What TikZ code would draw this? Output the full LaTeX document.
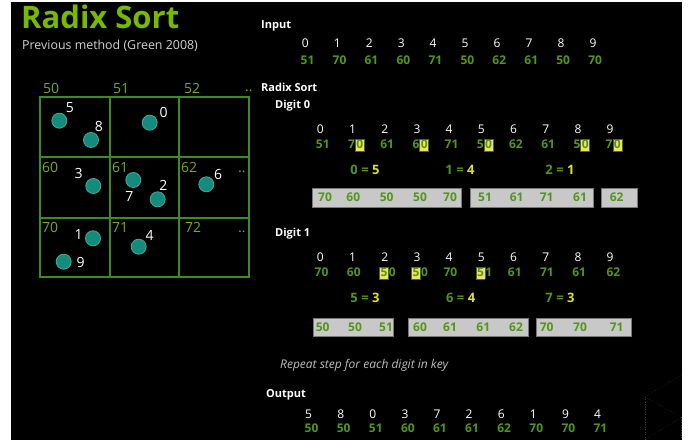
\documentclass[tikz,border=0pt]{standalone}
\usepackage{fontspec}
\setmainfont{Open Sans}
\definecolor{titlegreen}{RGB}{118,185,0}
\definecolor{valgreen}{RGB}{82,150,28}
\definecolor{labgreen}{RGB}{120,170,20}
\definecolor{gridgreen}{RGB}{60,140,30}
\definecolor{tealfill}{RGB}{20,140,125}
\definecolor{tealborder}{RGB}{70,170,155}
\definecolor{cntyellow}{RGB}{225,225,40}
\definecolor{hlfill}{RGB}{235,230,90}
\definecolor{hlborder}{RGB}{90,90,60}
\definecolor{bucketgray}{RGB}{200,200,200}
\definecolor{bucketborder}{RGB}{120,120,120}
\definecolor{subgray}{RGB}{210,210,210}
\definecolor{notegray}{RGB}{190,190,190}
\definecolor{faintgray}{RGB}{60,60,60}
\newcommand\hlbox[1]{{\setlength{\fboxsep}{0pt}\setlength{\fboxrule}{0.6pt}\fcolorbox{hlborder}{hlfill}{\makebox[8.5pt]{\rule[-2.6pt]{0pt}{11.6pt}#1}}}}
\begin{document}
\begin{tikzpicture}[x=1pt,y=-1pt,
  titlestyle/.style={font=\fontsize{31}{33}\selectfont\bfseries, text=titlegreen, anchor=base west, inner sep=0},
  substyle/.style={font=\fontsize{12.4}{14}\selectfont, text=subgray, anchor=base west, inner sep=0},
  headstyle/.style={font=\fontsize{11}{13}\selectfont\bfseries, text=white, anchor=base west, inner sep=0},
  idxstyle/.style={font=\fontsize{12}{14}\selectfont, text=white, anchor=base west, inner sep=0},
  valstyle/.style={font=\fontsize{12}{14}\selectfont\bfseries, text=valgreen, anchor=base west, inner sep=0},
  bvalstyle/.style={valstyle, anchor=base},
  cntstyle/.style={font=\fontsize{13}{15}\selectfont\bfseries, text=valgreen, anchor=base, inner sep=0},
  bucketstyle/.style={draw=bucketborder, fill=bucketgray, line width=0.8pt, anchor=north west, inner sep=0},
  gridline/.style={draw=gridgreen, line width=1.5pt},
  clabel/.style={font=\fontsize{14}{16}\selectfont, text=labgreen, anchor=base west, inner sep=0},
  dotstyle/.style={circle, fill=tealfill, draw=tealborder, line width=0.8pt, minimum size=15pt, inner sep=0},
  dlabel/.style={font=\fontsize{14}{16}\selectfont, text=white, inner sep=0},
  notestyle/.style={font=\fontsize{12}{14}\selectfont\itshape, text=notegray, anchor=base west, inner sep=0},
  faint/.style={draw=faintgray, dotted, line width=0.5pt}
]
\useasboundingbox (0,0) rectangle (691,441);
\fill[white] (0,0) rectangle (691,441);
\fill[black] (11,2) rectangle (682,440);

% title
\node[titlestyle] (title) at (21,28.8) {Radix Sort};
\node[substyle] (subtitle) at (22,49.3) {Previous method (Green 2008)};

% grid
\draw[gridline] (40,97) rectangle (249,277);
\draw[gridline] (110,97) -- (110,277);
\draw[gridline] (179,97) -- (179,277);
\draw[gridline] (40,157) -- (249,157);
\draw[gridline] (40,218) -- (249,218);

\node[clabel] (l50) at (43,94) {50};
\node[clabel] (l51) at (113,94) {51};
\node[clabel] (l52) at (184,94) {52};
\node[clabel] (dd1) at (245,92) {..};
\node[clabel] (l60) at (42,172) {60};
\node[clabel] (l61) at (112,172) {61};
\node[clabel] (l62) at (181,172) {62};
\node[clabel] (dd2) at (238,172) {..};
\node[clabel] (l70) at (42,233) {70};
\node[clabel] (l71) at (112,233) {71};
\node[clabel] (l72) at (185,233) {72};
\node[clabel] (dd3) at (238,233) {..};

% dots
\node[dotstyle] (p5) at (59.3,120.7) {};
\node[dlabel] (t5) at (70,108) {5};
\node[dotstyle] (p8) at (91,140) {};
\node[dlabel] (t8) at (99,127) {8};
\node[dotstyle] (p0) at (149.7,122.7) {};
\node[dlabel] (t0) at (163.7,112.3) {0};
\node[dotstyle] (p3) at (93.3,186) {};
\node[dlabel] (t3) at (78.7,173.3) {3};
\node[dotstyle] (p7) at (133.3,180) {};
\node[dlabel] (t7) at (129.3,196.7) {7};
\node[dotstyle] (p2) at (157.7,199.3) {};
\node[dlabel] (t2) at (163.3,185) {2};
\node[dotstyle] (p6) at (206.3,184.3) {};
\node[dlabel] (t6) at (218,174.3) {6};
\node[dotstyle] (p1) at (93,238.3) {};
\node[dlabel] (t1) at (78.7,235) {1};
\node[dotstyle] (p9) at (63.7,261.7) {};
\node[dlabel] (t9) at (80.7,262.3) {9};
\node[dotstyle] (p4) at (138.7,246.7) {};
\node[dlabel] (t4) at (149.7,235) {4};

% Input
\node[headstyle] (hin) at (261,29) {Input};
\foreach \v [count=\i from 0] in {51,70,61,60,71,50,62,61,50,70} {
  \node[idxstyle] (ii\i) at (301.7+31.96*\i,47.5) {\i};
  \node[valstyle] (iv\i) at (300.5+31.96*\i,64.3) {\v};
}

% Radix sort
\node[headstyle] (hrs) at (261,91.5) {Radix Sort};
\node[headstyle] (hd0) at (275,108.5) {Digit 0};
\foreach \v [count=\i from 0] in {51,{7\hlbox{0}},61,{6\hlbox{0}},71,{5\hlbox{0}},62,61,{5\hlbox{0}},{7\hlbox{0}}} {
  \node[idxstyle] (ai\i) at (316.7+32.2*\i,133.5) {\i};
  \node[valstyle] (av\i) at (315.7+32.2*\i,148.7) {\v};
}
\node[cntstyle] (ac0) at (365,175) {0 = \textcolor{cntyellow}{5}};
\node[cntstyle] (ac1) at (460,175) {1 = \textcolor{cntyellow}{4}};
\node[cntstyle] (ac2) at (560,175) {2 = \textcolor{cntyellow}{1}};

\node[bucketstyle, minimum width=149.3pt, minimum height=18.4pt] (ab1) at (311.7,188.3) {};
\node[bucketstyle, minimum width=123.3pt, minimum height=18.4pt] (ab2) at (470,188.3) {};
\node[bucketstyle, minimum width=35.7pt, minimum height=18.4pt] (ab3) at (601,188.3) {};
\foreach \v/\x [count=\i] in {70/325,60/353.3,50/386.7,50/420,70/450,51/485,61/516.7,71/546.7,61/580,62/616.7} {
  \node[bvalstyle] (aw\i) at (\x,201.6) {\v};
}

\node[headstyle] (hd1) at (275,236.5) {Digit 1};
\foreach \v [count=\i from 0] in {70,60,{\hlbox{5}0},{\hlbox{5}0},70,{\hlbox{5}1},61,71,61,{\,62}} {
  \node[idxstyle] (bi\i) at (316.7+32.2*\i,261) {\i};
  \node[valstyle] (bv\i) at (314.5+32.2*\i,276.5) {\v};
}
\node[cntstyle] (bc0) at (365,302.6) {5 = \textcolor{cntyellow}{3}};
\node[cntstyle] (bc1) at (460.7,302.6) {6 = \textcolor{cntyellow}{4}};
\node[cntstyle] (bc2) at (560,302.6) {7 = \textcolor{cntyellow}{3}};

\node[bucketstyle, minimum width=80.6pt, minimum height=18pt] (bb1) at (312.7,317.7) {};
\node[bucketstyle, minimum width=120pt, minimum height=18pt] (bb2) at (407.7,317.7) {};
\node[bucketstyle, minimum width=95.3pt, minimum height=18pt] (bb3) at (535.7,317.7) {};
\foreach \v/\x [count=\i] in {50/322.7,50/355,51/386,60/420,61/450,61/483.3,62/516,70/546.7,70/580,71/616.7} {
  \node[bvalstyle] (bw\i) at (\x,331) {\v};
}

\node[notestyle] (note) at (280,368) {Repeat step for each digit in key};

% Output
\node[headstyle] (hout) at (266,397.5) {Output};
\foreach \k/\v [count=\i from 0] in {5/50,8/50,0/51,3/60,7/61,2/61,6/62,1/70,9/70,4/71} {
  \node[idxstyle] (oi\i) at (305+32.1*\i,418.3) {\k};
  \node[valstyle] (ov\i) at (304.5+32.1*\i,432.6) {\v};
}

% faint dotted shape bottom right
\coordinate (fa) at (681.5,375);
\coordinate (fb) at (645,396.7);
\coordinate (fc) at (681.5,417.3);
\coordinate (fd) at (645,439.5);
\coordinate (fe) at (681.5,439.5);
\draw[faint] (fa) -- (fb) -- (fc) -- (fd);
\draw[faint] (fb) -- (fd);
\draw[faint] (fc) -- (fe);
\end{tikzpicture}
\end{document}
